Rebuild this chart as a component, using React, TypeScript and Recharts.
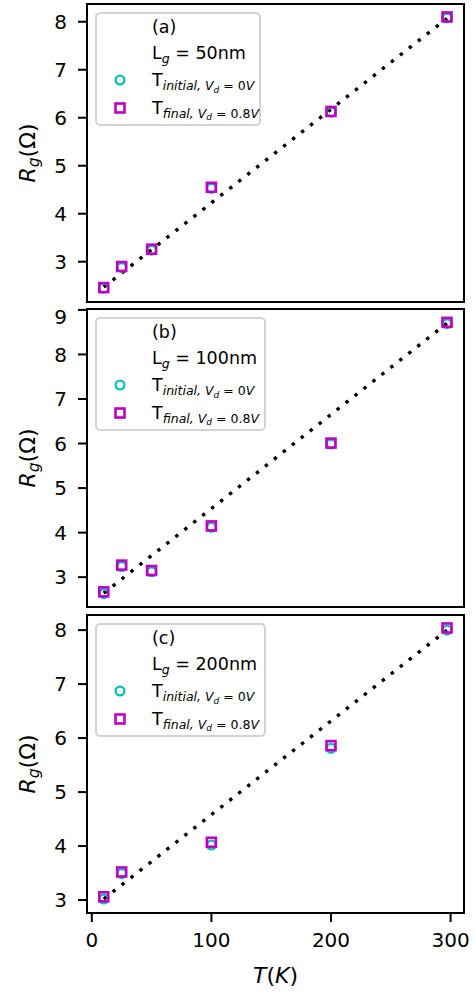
import React from 'react';
import { ComposedChart, Scatter, Line, XAxis, YAxis, Legend, ReferenceArea } from 'recharts';

const tempsAB = [10, 25, 50, 100, 200, 297];
const tempsC = [10, 25, 100, 200, 297];

const initialA = [2.45, 2.88, 3.24, 4.53, 6.12, 8.08];
const finalA = [2.46, 2.9, 3.26, 4.55, 6.13, 8.1];
const initialB = [2.63, 3.24, 3.12, 4.12, 5.99, 8.69];
const finalB = [2.67, 3.27, 3.15, 4.15, 6.01, 8.72];
const initialC = [3.02, 3.49, 4.02, 5.81, 8.0];
const finalC = [3.06, 3.52, 4.07, 5.86, 8.04];

const fitT = [10, 297];
const fitA = [2.47, 8.07];
const fitB = [2.64, 8.7];
const fitC = [3.02, 8.0];

const xTicks = [0, 100, 200, 300];
const yTicksA = [3, 4, 5, 6, 7, 8];
const yTicksB = [3, 4, 5, 6, 7, 8, 9];
const yTicksC = [3, 4, 5, 6, 7, 8];

const panelTags = ['(a)', '(b)', '(c)'];
const gateLengths = ['50nm', '100nm', '200nm'];

const FONT = '"DejaVu Sans", Verdana, sans-serif';
const CYAN = '#00bfbf';
const MAGENTA = '#bf00bf';
const X_DOMAIN: [number, number] = [-4, 311.2];

const zip = (xs: number[], ys: number[]) => xs.map((x, i) => ({ x, y: ys[i] }));

const CircleShape = (p: any) => (
  <circle cx={p.cx} cy={p.cy} r={4.4} fill="none" stroke={CYAN} strokeWidth={2.3} />
);
const SquareShape = (p: any) => (
  <rect x={p.cx - 4.5} y={p.cy - 4.5} width={9} height={9} fill="none" stroke={MAGENTA} strokeWidth={2.6} />
);

const YLabel = (props: any) => {
  const vb = props && props.viewBox ? props.viewBox : { y: 4, height: 298 };
  const cy = vb.y + vb.height / 2;
  const x = 35;
  return (
    <text
      x={x}
      y={cy}
      transform={`rotate(-90, ${x}, ${cy})`}
      textAnchor="middle"
      fontFamily={FONT}
      fontSize={22}
      fill="#000"
    >
      <tspan fontStyle="italic">R</tspan>
      <tspan fontStyle="italic" fontSize={15.5} dy={4}>g</tspan>
      <tspan dy={-4}>(Ω)</tspan>
    </text>
  );
};

const XLabel = (props: any) => {
  const vb = props && props.viewBox ? props.viewBox : { x: 87, width: 377, y: 302 };
  const cx = vb.x + vb.width / 2;
  return (
    <text x={cx} y={vb.y + 69.5} textAnchor="middle" fontFamily={FONT} fontSize={22} fill="#000">
      <tspan fontStyle="italic">T</tspan>
      <tspan>(</tspan>
      <tspan fontStyle="italic">K</tspan>
      <tspan>)</tspan>
    </text>
  );
};

const rowStyle = (center: number): React.CSSProperties => ({
  position: 'absolute',
  left: 55,
  top: center - 2 - 12,
  height: 24,
  lineHeight: '24px',
  whiteSpace: 'nowrap',
  fontSize: 17.5,
});

const markerStyle = (center: number): React.CSSProperties => ({
  position: 'absolute',
  left: 23 - 7,
  top: center - 2 - 7,
  width: 14,
  height: 14,
});

const sub: React.CSSProperties = { fontSize: 12.5, position: 'relative', top: 4 };
const subsub: React.CSSProperties = { fontSize: 9, position: 'relative', top: 2.5 };

const LegendBox = ({ tag, length, width }: { tag: string; length: string; width: number }) => (
  <div
    style={{
      position: 'relative',
      width,
      height: 114,
      boxSizing: 'border-box',
      border: '2px solid #d3d3d3',
      borderRadius: 5,
      background: 'rgba(255,255,255,0.85)',
      fontFamily: FONT,
      color: '#000',
    }}
  >
    <div style={rowStyle(14.7)}>{tag}</div>
    <div style={rowStyle(40.7)}>
      L<span style={{ ...sub, fontStyle: 'italic' }}>g</span> = {length}
    </div>
    <svg style={markerStyle(68)} width={14} height={14}>
      <circle cx={7} cy={7} r={4.4} fill="none" stroke={CYAN} strokeWidth={2.3} />
    </svg>
    <div style={rowStyle(68)}>
      T
      <span style={sub}>
        <i>initial, V</i>
        <i style={subsub}>d</i>
        {' = 0'}
        <i>V</i>
      </span>
    </div>
    <svg style={markerStyle(95.5)} width={14} height={14}>
      <rect x={2.5} y={2.5} width={9} height={9} fill="none" stroke={MAGENTA} strokeWidth={2.6} />
    </svg>
    <div style={rowStyle(95.5)}>
      T
      <span style={sub}>
        <i>final, V</i>
        <i style={subsub}>d</i>
        {' = 0.8'}
        <i>V</i>
      </span>
    </div>
  </div>
);

type PanelProps = {
  temps: number[];
  initial: number[];
  final: number[];
  fit: number[];
  domain: [number, number];
  yTicks: number[];
  tag: string;
  length: string;
  legendWidth: number;
  legendTop: number;
  showX: boolean;
};

const AXIS = { stroke: '#000', strokeWidth: 2 };
const TICK = { fontSize: 20, fill: '#000', fontFamily: FONT };

const Panel = (p: PanelProps) => {
  const height = p.showX ? 383 : 306;
  return (
    <ComposedChart
      width={475}
      height={height}
      margin={{ top: 4, right: 11, bottom: p.showX ? 0 : 4, left: 0 }}
    >
      <XAxis
        type="number"
        dataKey="x"
        domain={X_DOMAIN}
        allowDataOverflow
        ticks={xTicks}
        height={p.showX ? 81 : 0}
        tick={p.showX ? TICK : false}
        tickLine={p.showX ? AXIS : false}
        tickSize={9}
        tickMargin={11}
        axisLine={AXIS}
        label={p.showX ? { content: (lp: any) => <XLabel {...lp} /> } : undefined}
      />
      <YAxis
        type="number"
        domain={p.domain}
        allowDataOverflow
        ticks={p.yTicks}
        width={87}
        tick={TICK}
        tickLine={AXIS}
        tickSize={9}
        tickMargin={11}
        axisLine={AXIS}
        label={{ content: (lp: any) => <YLabel {...lp} /> }}
      />
      <ReferenceArea
        x1={X_DOMAIN[0]}
        x2={X_DOMAIN[1]}
        y1={p.domain[0]}
        y2={p.domain[1]}
        fill="none"
        fillOpacity={0}
        stroke="#000"
        strokeWidth={2}
        ifOverflow="visible"
      />
      <Legend
        layout="vertical"
        align="center"
        verticalAlign="middle"
        wrapperStyle={{ position: 'absolute', left: 95, top: p.legendTop, width: p.legendWidth, height: 114 }}
        content={() => <LegendBox tag={p.tag} length={p.length} width={p.legendWidth} />}
      />
      <Scatter
        name="initial"
        data={zip(p.temps, p.initial)}
        dataKey="y"
        shape={CircleShape}
        isAnimationActive={false}
      />
      <Scatter
        name="final"
        data={zip(p.temps, p.final)}
        dataKey="y"
        shape={SquareShape}
        isAnimationActive={false}
      />
      <Line
        name="fit"
        data={zip(fitT, p.fit)}
        dataKey="y"
        type="linear"
        stroke="#000"
        strokeWidth={3.4}
        strokeDasharray="3.4 8"
        dot={false}
        activeDot={false}
        legendType="none"
        isAnimationActive={false}
      />
    </ComposedChart>
  );
};

export default function App() {
  return (
    <div
      style={{
        position: 'absolute',
        left: 0,
        top: 0,
        width: 475,
        height: 994,
        background: '#fff',
        fontFamily: FONT,
        overflow: 'hidden',
      }}
    >
      <div style={{ position: 'absolute', left: 0, top: -0.5 }}>
        <Panel
          temps={tempsAB}
          initial={initialA}
          final={finalA}
          fit={fitA}
          domain={[2.16, 8.37]}
          yTicks={yTicksA}
          tag={panelTags[0]}
          length={gateLengths[0]}
          legendWidth={166}
          legendTop={12.8}
          showX={false}
        />
      </div>
      <div style={{ position: 'absolute', left: 0, top: 305 }}>
        <Panel
          temps={tempsAB}
          initial={initialB}
          final={finalB}
          fit={fitB}
          domain={[2.33, 9.02]}
          yTicks={yTicksB}
          tag={panelTags[1]}
          length={gateLengths[1]}
          legendWidth={171}
          legendTop={12.3}
          showX={false}
        />
      </div>
      <div style={{ position: 'absolute', left: 0, top: 611 }}>
        <Panel
          temps={tempsC}
          initial={initialC}
          final={finalC}
          fit={fitC}
          domain={[2.76, 8.28]}
          yTicks={yTicksC}
          tag={panelTags[2]}
          length={gateLengths[2]}
          legendWidth={171}
          legendTop={12.3}
          showX={true}
        />
      </div>
    </div>
  );
}
